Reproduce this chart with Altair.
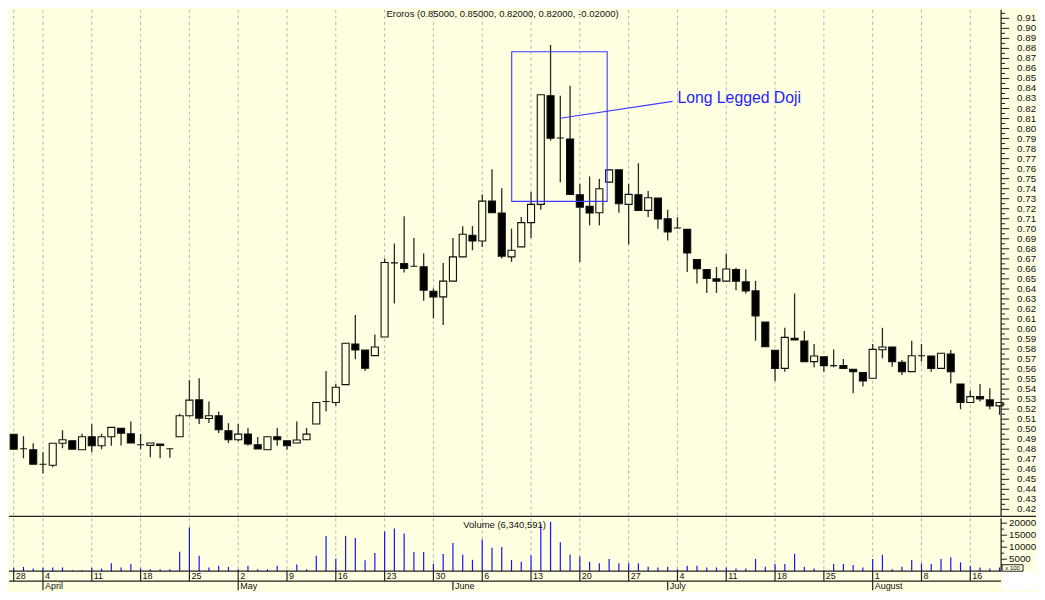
import altair as alt
import pandas as pd

BG = "#FFFFE1"

# ---- daily candles (trading-day index 0..101) ----
opens = [0.495, 0.4805, 0.4795, 0.465, 0.464, 0.486, 0.4885, 0.4795, 0.4925, 0.4835,
         0.4925, 0.5008, 0.4955, 0.4845, 0.4838, 0.4852, 0.4805, 0.4925, 0.5134, 0.5293,
         0.5107, 0.5134, 0.4985, 0.4895, 0.4951, 0.4845, 0.4795, 0.4925, 0.4885, 0.4862,
         0.4895, 0.5051, 0.5276, 0.5266, 0.5445, 0.585, 0.579, 0.5734, 0.592, 0.666,
         0.6653, 0.6626, 0.662, 0.6377, 0.632, 0.6477, 0.6719, 0.6935, 0.6878, 0.7276,
         0.7157, 0.6719, 0.6819, 0.7061, 0.7243, 0.8328, 0.7906, 0.7896, 0.734, 0.7223,
         0.716, 0.7465, 0.7588, 0.7243, 0.734, 0.7183, 0.7306, 0.71, 0.7007, 0.6994,
         0.6692, 0.6593, 0.65, 0.6477, 0.6593, 0.647, 0.638, 0.6068, 0.5786, 0.5607,
         0.5906, 0.5879, 0.5674, 0.5723, 0.5634, 0.5634, 0.5597, 0.5564, 0.5508, 0.5793,
         0.582, 0.5667, 0.5574, 0.5733, 0.573, 0.5607, 0.575, 0.5451, 0.5266, 0.5325,
         0.5292, 0.5233]
highs = [0.495, 0.493, 0.486, 0.477, 0.486, 0.499, 0.4885, 0.4955, 0.505, 0.4955,
         0.502, 0.501, 0.5077, 0.4952, 0.4862, 0.4852, 0.4805, 0.5155, 0.549, 0.5508,
         0.5276, 0.5177, 0.506, 0.5051, 0.5011, 0.4921, 0.4925, 0.5011, 0.4885, 0.5077,
         0.5011, 0.5266, 0.558, 0.545, 0.5857, 0.6139, 0.579, 0.5946, 0.6702, 0.6852,
         0.7124, 0.6908, 0.6752, 0.6404, 0.6659, 0.6908, 0.7024, 0.7027, 0.7343, 0.7594,
         0.7405, 0.7001, 0.7117, 0.7366, 0.8338, 0.8835, 0.8328, 0.8427, 0.7449, 0.7522,
         0.7498, 0.7588, 0.7588, 0.7449, 0.7654, 0.7376, 0.7306, 0.7189, 0.7116, 0.6994,
         0.6692, 0.6593, 0.6619, 0.6752, 0.6612, 0.6596, 0.648, 0.6068, 0.5786, 0.6012,
         0.6354, 0.5979, 0.585, 0.5723, 0.5796, 0.57, 0.5597, 0.5564, 0.585, 0.6012,
         0.582, 0.569, 0.5883, 0.585, 0.573, 0.5757, 0.579, 0.5451, 0.5385, 0.5451,
         0.5408, 0.5266]
lows = [0.480, 0.471, 0.465, 0.4557, 0.462, 0.481, 0.480, 0.4795, 0.477, 0.480,
        0.4835, 0.4838, 0.4862, 0.480, 0.472, 0.471, 0.4716, 0.4925, 0.5125, 0.5051,
        0.5061, 0.4961, 0.4862, 0.488, 0.4835, 0.4802, 0.4795, 0.4835, 0.4795, 0.4862,
        0.4895, 0.5051, 0.5177, 0.5233, 0.5445, 0.5697, 0.5581, 0.5734, 0.592, 0.6255,
        0.6563, 0.6626, 0.6281, 0.6105, 0.6039, 0.6477, 0.6719, 0.6785, 0.6818, 0.716,
        0.6702, 0.6669, 0.6819, 0.6908, 0.719, 0.788, 0.7465, 0.7343, 0.6669, 0.7034,
        0.7034, 0.7465, 0.716, 0.6845, 0.7183, 0.7117, 0.7001, 0.6884, 0.7007, 0.6569,
        0.6453, 0.636, 0.636, 0.6477, 0.6387, 0.6354, 0.5883, 0.5823, 0.5481, 0.5574,
        0.589, 0.5674, 0.5617, 0.5574, 0.5617, 0.5607, 0.5359, 0.5425, 0.5508, 0.5707,
        0.5624, 0.5541, 0.5574, 0.5674, 0.5574, 0.5607, 0.5458, 0.5199, 0.5266, 0.5276,
        0.5199, 0.5143]
closes = [0.480, 0.4805, 0.465, 0.465, 0.486, 0.4895, 0.480, 0.4925, 0.4835, 0.4925,
          0.5018, 0.496, 0.4862, 0.4845, 0.4862, 0.4838, 0.4805, 0.5134, 0.529, 0.511,
          0.5134, 0.4994, 0.4895, 0.4951, 0.4852, 0.4802, 0.4925, 0.4895, 0.4835, 0.4892,
          0.4951, 0.5266, 0.5276, 0.5419, 0.5857, 0.579, 0.5608, 0.582, 0.6663, 0.666,
          0.6603, 0.6626, 0.6387, 0.632, 0.6477, 0.6719, 0.6945, 0.6878, 0.7276, 0.716,
          0.6726, 0.6785, 0.7061, 0.7243, 0.8338, 0.7903, 0.7906, 0.7343, 0.7216, 0.7157,
          0.7399, 0.7588, 0.725, 0.7343, 0.7183, 0.7309, 0.7097, 0.6968, 0.7007, 0.6758,
          0.6602, 0.6503, 0.6477, 0.6599, 0.6477, 0.638, 0.6131, 0.5823, 0.5607, 0.5916,
          0.589, 0.5674, 0.573, 0.5634, 0.5634, 0.5607, 0.5574, 0.5481, 0.5796, 0.582,
          0.5674, 0.5574, 0.5733, 0.5733, 0.5607, 0.5757, 0.5574, 0.5266, 0.5325, 0.5302,
          0.5233, 0.5266]
volumes = [1400, 1800, 1100, 1400, 1550, 1550, 420, 420, 1400, 1100,
           3350, 1550, 2950, 1100, 830, 830, 830, 8100, 18150, 6400,
           1550, 2250, 1800, 830, 2250, 830, 830, 2250, 420, 2800,
           830, 6400, 14700, 5200, 14700, 13850, 4600, 7550, 16500, 17750,
           15650, 7950, 7950, 3080, 7130, 11750, 6850, 4750, 13150, 9800,
           10100, 4700, 3900, 6530, 19600, 20590, 12070, 6960, 6110, 3980,
           3270, 5110, 3270, 3270, 3270, 1850, 1560, 1850, 850, 2270,
           2270, 1560, 1560, 1560, 1140, 1140, 5110, 1850, 2980, 2980,
           7240, 1850, 1140, 430, 2980, 2980, 2560, 1560, 5110, 6820,
           850, 1850, 4690, 3270, 2980, 5110, 5820, 3690, 2270, 1560,
           1140, 1560]

# ---- date axis ----
week_idx = [0, 3, 8, 13, 18, 23, 28, 33, 38, 43, 48, 53, 58, 63, 68, 73, 78, 83, 88, 93, 98]
week_lbl = ["28", "4", "11", "18", "25", "2", "9", "16", "23", "30", "6",
            "13", "20", "27", "4", "11", "18", "25", "1", "8", "16"]
month_idx = [3, 23, 45, 67, 88]
month_lbl = ["April", "May", "June", "July", "August"]

price_ticks = [round(0.42 + 0.01 * k, 2) for k in range(50)]
price_minor = [round(t + 0.005, 3) for t in price_ticks]
vol_ticks = [5000, 10000, 15000, 20000]
vol_minor = [2500, 7500, 12500, 17500]

title_text = ["Eroros (0.85000, 0.85000, 0.82000, 0.82000, -0.02000)"]
vol_title = ["Volume (6,340,591)"]
note_text = ["Long Legged Doji"]
box_x = [51.02, 60.8]
box_p = [0.7273, 0.8766]
note_x = [56.01, 67.50]
note_p = [0.8102, 0.8271]
note_text_x = [68.0]
note_text_p = [0.8301]

# ---- geometry ----
W, HM, HV = 994, 508, 53
FONT = "Liberation Sans"
xs = alt.Scale(domain=[-0.3794, 101.158], nice=False, zero=False)
ps = alt.Scale(domain=[0.41299, 0.91846], nice=False, zero=False)
vs = alt.Scale(domain=[0, 22000], nice=False, zero=True)

df = pd.DataFrame({"i": list(range(len(opens))), "o": opens, "h": highs,
                   "l": lows, "c": closes, "v": volumes})
weeks = pd.DataFrame({"i": week_idx, "lab": week_lbl})
months = pd.DataFrame({"i": month_idx, "lab": month_lbl})
one = pd.DataFrame({"k": [0]})
INK = "#1a1a1a"


def X(field="i"):
    return alt.X(f"{field}:Q", scale=xs, axis=None)


def P(field):
    return alt.Y(f"{field}:Q", scale=ps, axis=None)


def V(field):
    return alt.Y(f"{field}:Q", scale=vs, axis=None)


# ================= price panel =================
grid_main = alt.Chart(weeks).mark_rule(color="#b5b5b5", strokeDash=[3, 3], strokeWidth=1).encode(
    x=X(), y=alt.value(0), y2=alt.value(HM))

wicks = alt.Chart(df).mark_rule(color="#2a2a2a", strokeWidth=1.3).encode(
    x=X(), y=P("l"), y2="h:Q")

bodies = alt.Chart(df).transform_calculate(
    xl="datum.i - 0.36", xr="datum.i + 0.36"
).mark_rect(stroke="#111111", strokeWidth=1.1).encode(
    x=X("xl"), x2="xr:Q", y=P("o"), y2="c:Q",
    fill=alt.condition("datum.c >= datum.o", alt.value(BG), alt.value("#000000")))

p_axis_line = alt.Chart(one).mark_rule(color=INK, strokeWidth=1.2).encode(
    x=alt.value(W), y=alt.value(0), y2=alt.value(HM))
p_major = alt.Chart(pd.DataFrame({"p": price_ticks})).mark_rule(color=INK).encode(
    y=P("p"), x=alt.value(W), x2=alt.value(W + 8))
p_minor = alt.Chart(pd.DataFrame({"p": price_minor})).mark_rule(color=INK).encode(
    y=P("p"), x=alt.value(W), x2=alt.value(W + 4))
p_labels = alt.Chart(pd.DataFrame({"p": price_ticks})).transform_calculate(
    lab="format(datum.p, '.2f')"
).mark_text(align="left", baseline="middle", fontSize=9.8, font=FONT, color="#111111").encode(
    y=P("p"), x=alt.value(W + 16), text="lab:N")

box = alt.Chart(pd.DataFrame({"x0": [box_x[0]], "x1": [box_x[1]],
                              "p0": [box_p[0]], "p1": [box_p[1]]})).mark_rect(
    fillOpacity=0, stroke="#3c3cff", strokeWidth=1.1).encode(
    x=X("x0"), x2="x1:Q", y=P("p0"), y2="p1:Q")

note_line = alt.Chart(pd.DataFrame({"x0": [note_x[0]], "x1": [note_x[1]],
                                    "p0": [note_p[0]], "p1": [note_p[1]]})).mark_rule(
    color="#3c3cff", strokeWidth=1.1).encode(
    x=X("x0"), x2="x1:Q", y=P("p0"), y2="p1:Q")

note = alt.Chart(pd.DataFrame({"x": note_text_x, "p": note_text_p, "t": note_text})).mark_text(
    align="left", baseline="middle", fontSize=15.8, font=FONT, color="#1e1eff").encode(
    x=X("x"), y=P("p"), text="t:N")

title = alt.Chart(pd.DataFrame({"t": title_text})).mark_text(
    align="center", baseline="middle", fontSize=9.5, font=FONT, color="#111111").encode(
    x=alt.value(494), y=alt.value(4.5), text="t:N")

sep = alt.Chart(one).mark_rule(color="#222222", strokeWidth=1.3).encode(
    x=alt.value(-1), x2=alt.value(W + 35), y=alt.value(HM))

main = alt.layer(grid_main, wicks, bodies, box, note_line, note, title,
                 p_axis_line, p_major, p_minor, p_labels, sep).properties(width=W, height=HM)

# ================= volume panel =================
grid_vol = alt.Chart(weeks).mark_rule(color="#b5b5b5", strokeDash=[3, 3], strokeWidth=1).encode(
    x=X(), y=alt.value(0), y2=alt.value(HV))

vbars = alt.Chart(df).mark_rule(color="#1414ff", strokeWidth=1.2).encode(
    x=X(), y=V("v"), y2=alt.value(HV))

v_axis_line = alt.Chart(one).mark_rule(color=INK, strokeWidth=1.2).encode(
    x=alt.value(W), y=alt.value(0), y2=alt.value(HV))
v_major = alt.Chart(pd.DataFrame({"v": vol_ticks})).mark_rule(color=INK).encode(
    y=V("v"), x=alt.value(W), x2=alt.value(W + 6))
v_minor = alt.Chart(pd.DataFrame({"v": vol_minor})).mark_rule(color=INK).encode(
    y=V("v"), x=alt.value(W), x2=alt.value(W + 3))
v_labels = alt.Chart(pd.DataFrame({"v": vol_ticks})).transform_calculate(
    lab="format(datum.v, 'd')"
).mark_text(align="left", baseline="middle", fontSize=9.8, font=FONT, color="#111111").encode(
    y=V("v"), x=alt.value(W + 8), text="lab:N")

vtitle = alt.Chart(pd.DataFrame({"t": vol_title})).mark_text(
    align="center", baseline="middle", fontSize=9.5, font=FONT, color="#111111").encode(
    x=alt.value(496), y=alt.value(6.5), text="t:N")

cover = alt.Chart(one).mark_rect(fill="#ffffff").encode(
    x=alt.value(W + 0.7), x2=alt.value(W + 35), y=alt.value(HV + 0.7), y2=alt.value(HV + 19))

xbox = alt.Chart(one).mark_rect(fill=BG, stroke="#222222", strokeWidth=1).encode(
    x=alt.value(W + 1), x2=alt.value(W + 22), y=alt.value(HV - 6.5), y2=alt.value(HV))
xbox_t = alt.Chart(pd.DataFrame({"t": ["x 100"]})).mark_text(
    align="center", baseline="middle", fontSize=6, font=FONT, color="#111111").encode(
    x=alt.value(W + 11.5), y=alt.value(HV - 3.2), text="t:N")

base1 = alt.Chart(one).mark_rule(color="#222222", strokeWidth=1.3).encode(
    x=alt.value(-1), x2=alt.value(W), y=alt.value(HV))
base2 = alt.Chart(one).mark_rule(color="#222222", strokeWidth=1.3).encode(
    x=alt.value(-1), x2=alt.value(W), y=alt.value(HV + 10))

wk_ticks = alt.Chart(weeks).mark_rule(color="#222222", strokeWidth=1.2).encode(
    x=X(), y=alt.value(HV), y2=alt.value(HV + 10))
wk_text = alt.Chart(weeks).mark_text(
    align="left", baseline="middle", dx=2, fontSize=9, font=FONT, color="#111111").encode(
    x=X(), y=alt.value(HV + 5.2), text="lab:N")
mo_ticks = alt.Chart(months).mark_rule(color="#222222", strokeWidth=1.2).encode(
    x=X(), y=alt.value(HV + 10), y2=alt.value(HV + 19))
mo_text = alt.Chart(months).mark_text(
    align="left", baseline="middle", dx=2, fontSize=9, font=FONT, color="#111111").encode(
    x=X(), y=alt.value(HV + 14.6), text="lab:N")

vol = alt.layer(grid_vol, vbars, vtitle, v_axis_line, v_major, v_minor, v_labels,
                cover, xbox, xbox_t, base1, base2,
                wk_ticks, wk_text, mo_ticks, mo_text).properties(width=W, height=HV)

chart = alt.vconcat(main, vol, spacing=0).properties(
    background=BG, padding=0
).configure_view(stroke=None)

chart.save("out.html", embed_options={"renderer": "svg", "actions": False})
